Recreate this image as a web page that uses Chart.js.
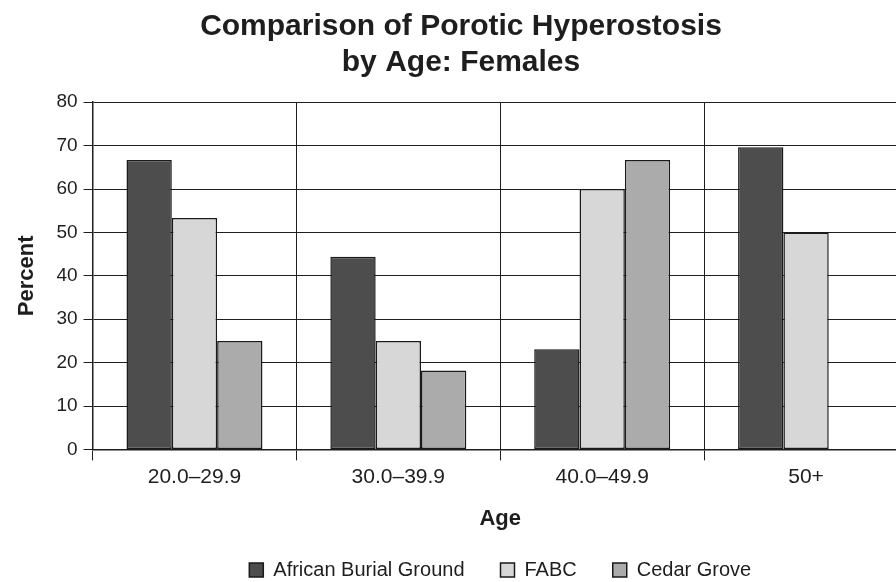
<!DOCTYPE html>
<html>
<head>
<meta charset="utf-8">
<script src="https://cdn.jsdelivr.net/npm/chart.js@4"></script>
<style>
  html, body { margin: 0; padding: 0; background: #fff; overflow: hidden; }
  #wrap { width: 912px; height: 582px; }
</style>
</head>
<body>
<div id="wrap"><canvas id="barChart" width="912" height="582"></canvas></div>
<script>
        // age groups and percent of females with porotic hyperostosis
        const ageGroups = ['20.0\u201329.9', '30.0\u201339.9', '40.0\u201349.9', '50+'];
        const africanBurialGround = [66.7, 44.4, 23.1, 69.6];
        const fabc = [53.3, 25, 60, 50];
        const cedarGrove = [25, 18.2, 66.7, null];
        const yTicks = [0, 10, 20, 30, 40, 50, 60, 70, 80];

        const fontFamily = "'Liberation Sans', Arial, Helvetica, sans-serif";
        const ink = '#1e1e1e';

        function makeDataset(label, values, color) {
            return {
                label: label,
                data: values,
                backgroundColor: color,
                borderColor: '#1a1a1a',
                borderWidth: 1.5,
                borderSkipped: false,
                categoryPercentage: 0.667,
                barPercentage: 1.0
            };
        }

        // legend sits centred under the plot area rather than the whole canvas
        const legendUnderPlot = {
            id: 'legendUnderPlot',
            afterLayout(chart) {
                chart.legend.left = chart.chartArea.left;
                chart.legend.right = chart.chartArea.right;
                chart.legend.top -= 12;
                chart.legend.bottom -= 12;
            }
        };

        function drawChart() {
            let ctx = document.getElementById('barChart').getContext('2d');
            const config = {
                type: 'bar',
                data: {
                    labels: ageGroups,
                    datasets: [
                        makeDataset('African Burial Ground', africanBurialGround, '#4d4d4d'),
                        makeDataset('FABC', fabc, '#d7d7d7'),
                        makeDataset('Cedar Grove', cedarGrove, '#ababab')
                    ]
                },
                plugins: [legendUnderPlot],
                options: {
                    responsive: false,
                    devicePixelRatio: 1,
                    animation: false,
                    layout: { padding: { left: 14, right: 4, top: 8, bottom: -20 } },
                    plugins: {
                        title: {
                            display: true,
                            text: ['Comparison of Porotic Hyperostosis', 'by Age: Females'],
                            color: ink,
                            font: { family: fontFamily, size: 30, weight: 'bold', lineHeight: 1.22 },
                            padding: { top: 0, bottom: 21 }
                        },
                        legend: {
                            position: 'bottom',
                            labels: {
                                color: ink,
                                font: { family: fontFamily, size: 20 },
                                boxWidth: 14,
                                boxHeight: 14,
                                padding: 36
                            }
                        },
                        tooltip: { enabled: false }
                    },
                    scales: {
                        x: {
                            offset: true,
                            grid: { color: ink, offset: true, tickLength: 11, lineWidth: 1 },
                            border: { color: ink, width: 1.5 },
                            ticks: { color: ink, font: { family: fontFamily, size: 21 }, padding: 4 },
                            title: {
                                display: true,
                                text: 'Age',
                                color: ink,
                                font: { family: fontFamily, size: 22, weight: 'bold' },
                                padding: { top: 12, bottom: 4 }
                            }
                        },
                        y: {
                            min: 0,
                            max: 80,
                            afterBuildTicks: function(axis) {
                                axis.ticks = yTicks.map(v => ({ value: v }));
                            },
                            grid: { color: ink, tickLength: 9, lineWidth: 1 },
                            border: { color: ink, width: 1.5 },
                            ticks: { color: ink, font: { family: fontFamily, size: 19 }, padding: 6 },
                            title: {
                                display: true,
                                text: 'Percent',
                                color: ink,
                                font: { family: fontFamily, size: 22, weight: 'bold' },
                                padding: { top: 0, bottom: 10 }
                            }
                        }
                    }
                }
            };
            window.porosisChart = new Chart(ctx, config);
        }

        document.addEventListener("DOMContentLoaded", drawChart);
</script>
</body>
</html>
